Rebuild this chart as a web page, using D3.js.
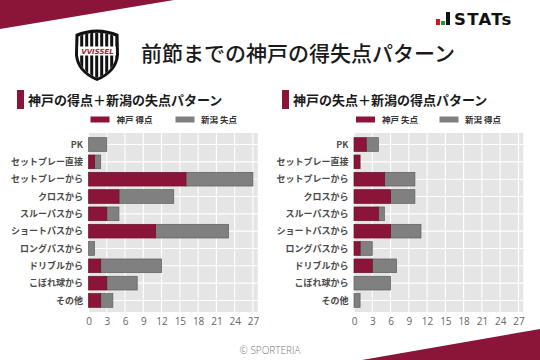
<!DOCTYPE html>
<html><head><meta charset="utf-8">
<script src="https://cdn.jsdelivr.net/npm/d3@7"></script>
<style>
html,body{margin:0;padding:0;background:#fff;}
svg{display:block;font-family:"Noto Sans CJK JP","Noto Sans",sans-serif;}
</style></head>
<body>
<svg id="c" width="540" height="360"></svg>
<script>
const categories = ['PK','セットプレー直接','セットプレーから','クロスから','スルーパスから','ショートパスから','ロングパスから','ドリブルから','こぼれ球から','その他'];
const leftKobeScored = [0,1,16,5,3,11,0,2,3,2];
const leftNiigataConceded = [3,1,11,9,2,12,1,10,5,2];
const rightKobeConceded = [2,1,5,6,4,6,1,3,0,0];
const rightNiigataScored = [2,0,5,4,1,5,2,4,6,1];
const tickValues = [0,3,6,9,12,15,18,21,24,27];
const titleText = '前節までの神戸の得失点パターン';
const panels = [
  {title:'神戸の得点＋新潟の失点パターン', a:leftKobeScored, b:leftNiigataConceded, la:'神戸 得点', lb:'新潟 失点'},
  {title:'神戸の失点＋新潟の得点パターン', a:rightKobeConceded, b:rightNiigataScored, la:'神戸 失点', lb:'新潟 得点'}
];

const RED = '#8b1538', GREY = '#808080';
const svg = d3.select('#c');

// decorative banners
svg.append('polygon').attr('points','0,0 174,0 0,29').attr('fill',RED);
svg.append('polygon').attr('points','362,360 540,329 540,360').attr('fill',RED);

// Vissel shield logo
const logo = svg.append('g');
const shieldPath = 'M75.5,34 Q97,25 118.5,34 L119,55 Q117.5,72.5 97,81 Q76.5,72.5 75,55 Z';
const defs = svg.append('defs');
defs.append('clipPath').attr('id','shclip').append('path')
  .attr('d','M78.5,36.5 Q97,29 115.5,36.5 L116,55 Q114.5,70.5 97,78 Q79.5,70.5 78,55 Z');
logo.append('path').attr('d',shieldPath).attr('fill','#111');
const inner = logo.append('g').attr('clip-path','url(#shclip)');
inner.append('rect').attr('x',75).attr('y',28).attr('width',45).attr('height',55).attr('fill','#fff');
for (let x = 80.2; x < 116; x += 5) {
  inner.append('rect').attr('x',x).attr('y',28).attr('width',3).attr('height',55).attr('fill','#111');
}
inner.append('rect').attr('x',75).attr('y',46.5).attr('width',45).attr('height',9).attr('fill','#fff');
logo.append('text').attr('x',97.5).attr('y',54.3).attr('text-anchor','middle')
  .style('font-family','"DejaVu Sans", sans-serif').attr('font-weight','bold').attr('font-style','italic')
  .attr('font-size',7).attr('fill','#c8102e').text('VVISSEL');

// STATs logo
svg.append('rect').attr('x',436).attr('y',19).attr('width',4).attr('height',6).attr('fill','#d7141e');
svg.append('rect').attr('x',441).attr('y',21).attr('width',4).attr('height',4).attr('fill','#1a9a3a');
svg.append('rect').attr('x',446).attr('y',12).attr('width',4).attr('height',13).attr('fill','#111');
svg.append('text').attr('x',454).attr('y',25).style('font-family','"DejaVu Sans", sans-serif')
  .attr('font-weight','bold').attr('font-size',16.5).attr('letter-spacing',1.3).attr('fill','#111').text('STATs');

// main title
svg.append('text').attr('x',141).attr('y',61).attr('font-size',21).attr('font-weight',500)
  .attr('fill','#1a1a1a').text(titleText);

// copyright
svg.append('text').attr('x',270).attr('y',354).attr('text-anchor','middle')
  .style('font-family','"Open Sans", "Noto Sans", sans-serif').attr('font-weight',300)
  .attr('font-size',10).attr('fill','#777').text('© SPORTERIA');

const xOff = [88.5, 354];
const catEnd = [83, 348.5];
const subX = [17, 282];

panels.forEach((p, i) => {
  const g = svg.append('g');
  const x0 = xOff[i];
  const x = d3.scaleLinear().domain([0, 27.8]).range([x0, x0 + 27.8 * 6.09]);
  const y = d3.scaleBand().domain(categories).range([133, 312]).paddingInner(0.21).paddingOuter(0.27);

  // subtitle
  g.append('rect').attr('x',subX[i]).attr('y',90).attr('width',7).attr('height',19).attr('fill',RED);
  g.append('text').attr('x',subX[i] + 11).attr('y',105).attr('font-size',13).attr('font-weight','bold')
    .attr('fill','#1a1a1a').text(p.title);

  // legend
  const lx = x0 + 2;
  g.append('rect').attr('x',lx).attr('y',116.5).attr('width',19).attr('height',6).attr('fill',RED);
  g.append('text').attr('x',lx + 26).attr('y',122.5).attr('font-size',8.5).attr('font-weight','bold')
    .attr('fill','#333').text(p.la);
  g.append('rect').attr('x',lx + (i===0?85:83.5)).attr('y',116.5).attr('width',19).attr('height',6).attr('fill',GREY);
  g.append('text').attr('x',lx + (i===0?110.5:109)).attr('y',122.5).attr('font-size',8.5).attr('font-weight','bold')
    .attr('fill','#333').text(p.lb);

  // panel
  const [r0, r1] = x.range();
  g.append('rect').attr('x',r0).attr('y',133).attr('width',r1 - r0).attr('height',179).attr('fill','#e5e5e5');
  g.selectAll('.vg').data(tickValues).join('line')
    .attr('x1',d => x(d)).attr('x2',d => x(d)).attr('y1',133).attr('y2',312)
    .attr('stroke','#fff').attr('stroke-width',1.1);
  g.selectAll('.hg').data(categories).join('line')
    .attr('x1',r0).attr('x2',r1).attr('y1',d => y(d) + y.bandwidth()/2).attr('y2',d => y(d) + y.bandwidth()/2)
    .attr('stroke','#fff').attr('stroke-width',1.1);

  // bars
  const rows = categories.map((c, k) => ({c, a:p.a[k], b:p.b[k]}));
  g.selectAll('.ba').data(rows.filter(d => d.b > 0)).join('rect')
    .attr('x',d => x(d.a)).attr('y',d => y(d.c)).attr('width',d => x(d.a + d.b) - x(d.a))
    .attr('height',y.bandwidth()).attr('fill',GREY).attr('stroke','#5e5e5e').attr('stroke-width',0.7);
  g.selectAll('.bb').data(rows.filter(d => d.a > 0)).join('rect')
    .attr('x',d => x(0)).attr('y',d => y(d.c)).attr('width',d => x(d.a) - x(0))
    .attr('height',y.bandwidth()).attr('fill',RED).attr('stroke','#6a1029').attr('stroke-width',0.7);

  // category labels
  g.selectAll('.cl').data(categories).join('text')
    .attr('x',catEnd[i]).attr('y',d => y(d) + y.bandwidth()/2 + 3.2).attr('text-anchor','end')
    .attr('font-size',9).attr('font-weight','bold').attr('fill','#4a4a4a').text(d => d);

  // x axis
  const ax = g.append('g').attr('transform','translate(0,312)')
    .call(d3.axisBottom(x).tickValues(tickValues).tickSize(0).tickPadding(6));
  ax.select('.domain').remove();
  ax.selectAll('text').style('font-family','"Open Sans", "Noto Sans", sans-serif').attr('font-size',10)
    .attr('fill','#666').attr('dy','0.71em');
});
</script>
</body></html>
